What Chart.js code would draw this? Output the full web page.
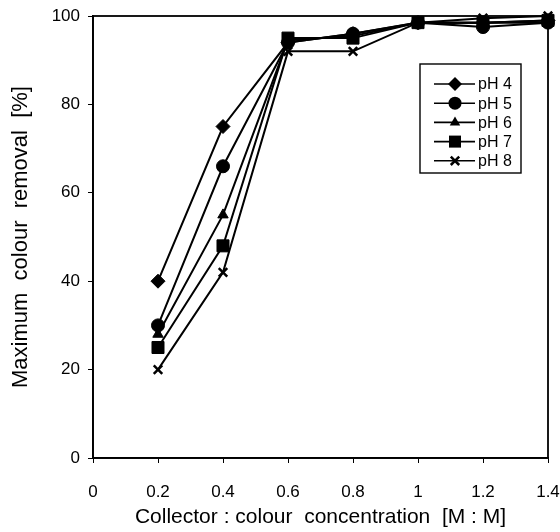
<!DOCTYPE html>
<html>
<head>
<meta charset="utf-8">
<script src="https://cdn.jsdelivr.net/npm/chart.js@4/dist/chart.umd.min.js"></script>
<style>
  body { margin: 0; background: #fff; }
  #wrap { width: 560px; height: 532px; }
</style>
</head>
<body>
<div id="wrap"><canvas id="chartCanvas" width="560" height="532"></canvas></div>
<script>
const ratios = [0.2, 0.4, 0.6, 0.8, 1.0, 1.2, 1.4];
const ph4 = [40, 75, 94, 96, 98.5, 98.5, 99];
const ph5 = [30, 66, 94, 96, 98.5, 97.5, 98.5];
const ph6 = [28, 55, 94.5, 95.5, 98.5, 98.5, 98.5];
const ph7 = [25, 48, 95, 95, 98.5, 98.5, 99];
const ph8 = [20, 42, 92, 92, 98.5, 99.5, 100];
const seriesNames = ['pH 4', 'pH 5', 'pH 6', 'pH 7', 'pH 8'];
const xTicks = [0, 0.2, 0.4, 0.6, 0.8, 1, 1.2, 1.4];
const yTicks = [0, 20, 40, 60, 80, 100];

const FONT = '"Liberation Sans", Arial, Helvetica, sans-serif';
const markers = [
    { style: 'rectRot', radius: 7 },
    { style: 'circle', radius: 6.5 },
    { style: 'triangle', radius: 6 },
    { style: 'rect', radius: 8.5 },
    { style: 'crossRot', radius: 6 }
];

function toPoints(values) {
    return values.map(function (v, i) { return { x: ratios[i], y: v }; });
}

const datasets = [ph4, ph5, ph6, ph7, ph8].map(function (values, i) {
    return {
        label: seriesNames[i],
        data: toPoints(values),
        borderColor: '#000',
        backgroundColor: '#000',
        borderWidth: 2,
        pointStyle: markers[i].style,
        pointRadius: markers[i].radius,
        pointBorderWidth: markers[i].style === 'crossRot' ? 2.5 : 1,
        pointBackgroundColor: '#000',
        pointBorderColor: '#000',
        tension: 0,
        clip: false
    };
});

// legend symbols, drawn to look like the chart's point styles
function drawMarker(ctx, style, r, x, y) {
    ctx.save();
    ctx.fillStyle = '#000';
    ctx.strokeStyle = '#000';
    ctx.beginPath();
    if (style === 'rectRot') {
        ctx.moveTo(x, y - r); ctx.lineTo(x + r, y); ctx.lineTo(x, y + r); ctx.lineTo(x - r, y);
        ctx.closePath(); ctx.fill();
    } else if (style === 'circle') {
        ctx.arc(x, y, r, 0, Math.PI * 2); ctx.fill();
    } else if (style === 'triangle') {
        ctx.moveTo(x, y - r); ctx.lineTo(x + r * 0.87, y + r * 0.5); ctx.lineTo(x - r * 0.87, y + r * 0.5);
        ctx.closePath(); ctx.fill();
    } else if (style === 'rect') {
        const s = r * 0.707;
        ctx.rect(x - s, y - s, s * 2, s * 2); ctx.fill();
    } else {
        const s = r * 0.7;
        ctx.lineWidth = 2.5;
        ctx.moveTo(x - s, y - s); ctx.lineTo(x + s, y + s);
        ctx.moveTo(x + s, y - s); ctx.lineTo(x - s, y + s);
        ctx.stroke();
    }
    ctx.restore();
}

const frameAndLegend = {
    id: 'frameAndLegend',
    afterDraw: function (chart) {
        const ctx = chart.ctx;
        const a = chart.chartArea;
        ctx.save();
        ctx.strokeStyle = '#000';
        ctx.lineWidth = 1.8;
        ctx.strokeRect(a.left, a.top, a.right - a.left, a.bottom - a.top);

        // legend box
        const bx = a.right - 128, by = a.top + 48, bw = 101, bh = 109;
        ctx.lineWidth = 1.4;
        ctx.strokeRect(bx, by, bw, bh);
        ctx.font = '16px ' + FONT;
        ctx.textBaseline = 'middle';
        ctx.fillStyle = '#000';
        chart.data.datasets.forEach(function (ds, i) {
            const y = by + 20 + i * 19.2;
            ctx.lineWidth = 1.6;
            ctx.beginPath();
            ctx.moveTo(bx + 14, y);
            ctx.lineTo(bx + 55, y);
            ctx.stroke();
            drawMarker(ctx, ds.pointStyle, ds.pointRadius, bx + 35, y);
            ctx.fillText(ds.label, bx + 58, y + 1);
        });
        ctx.restore();
    }
};

const ctx = document.getElementById('chartCanvas').getContext('2d');
new Chart(ctx, {
    type: 'line',
    data: { datasets: datasets },
    options: {
        responsive: false,
        animation: false,
        layout: { padding: { top: 16, right: 12, left: 0, bottom: 0 } },
        plugins: {
            legend: { display: false },
            tooltip: { enabled: false }
        },
        scales: {
            x: {
                type: 'linear',
                min: 0,
                max: 1.4,
                afterBuildTicks: function (scale) {
                    scale.ticks = xTicks.map(function (v) { return { value: v }; });
                },
                afterFit: function (scale) {
                    scale.height = 74;
                    scale.paddingRight = 0;
                    scale.paddingLeft = 0;
                },
                grid: { drawOnChartArea: false, tickLength: 5, color: '#000', lineWidth: 1 },
                border: { color: '#000', width: 1.8 },
                ticks: {
                    color: '#000',
                    font: { family: FONT, size: 17 },
                    padding: 19,
                    maxRotation: 0,
                    callback: function (v) { return String(Math.round(v * 10) / 10); }
                },
                title: {
                    display: true,
                    text: 'Collector : colour  concentration  [M : M]',
                    color: '#000',
                    font: { family: FONT, size: 21 },
                    padding: { top: 0, bottom: 2 }
                }
            },
            y: {
                min: 0,
                max: 100,
                afterBuildTicks: function (scale) {
                    scale.ticks = yTicks.map(function (v) { return { value: v }; });
                },
                afterFit: function (scale) {
                    scale.width = 93;
                    scale.paddingTop = 0;
                    scale.paddingBottom = 0;
                },
                grid: { drawOnChartArea: false, tickLength: 5, color: '#000', lineWidth: 1 },
                border: { color: '#000', width: 1.8 },
                ticks: {
                    color: '#000',
                    font: { family: FONT, size: 17 },
                    padding: 8
                },
                title: {
                    display: true,
                    text: 'Maximum  colour  removal  [%]',
                    color: '#000',
                    font: { family: FONT, size: 22 },
                    padding: { top: 8, bottom: 0 }
                }
            }
        }
    },
    plugins: [frameAndLegend]
});
</script>
</body>
</html>
